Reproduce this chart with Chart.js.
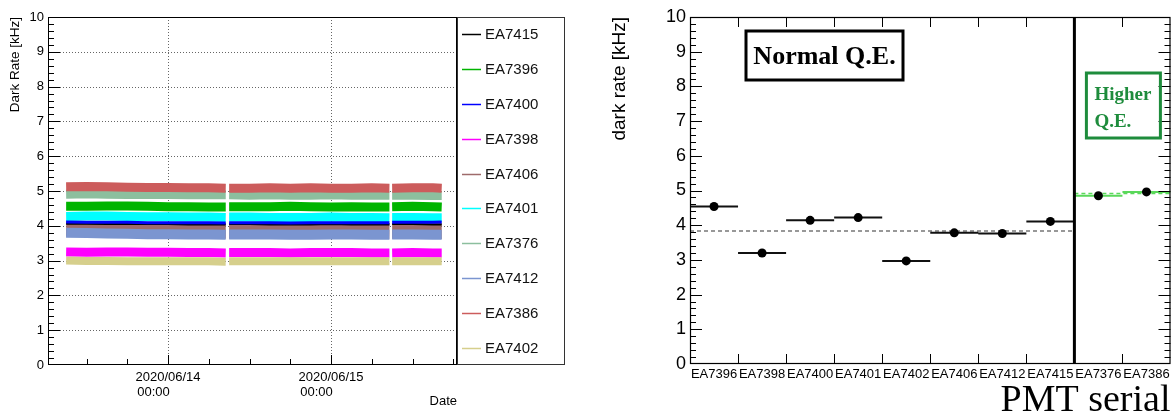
<!DOCTYPE html>
<html>
<head>
<meta charset="utf-8">
<script src="https://cdn.jsdelivr.net/npm/chart.js@4.4.1/dist/chart.umd.min.js"></script>
<style>
  html, body { margin: 0; padding: 0; background: #fff; }
  #wrap { position: relative; width: 1175px; height: 419px; overflow: hidden; }
  #graficoTempo { position: absolute; left: 0; top: 0; }
  #graficoPmt { position: absolute; left: 585px; top: 0; }
</style>
</head>
<body>
<div id="wrap">
  <canvas id="graficoTempo" width="585" height="419"></canvas>
  <canvas id="graficoPmt" width="590" height="419"></canvas>
</div>
<script>
// Dados: horas desde 2020/06/13 00:00 (null = falha na aquisição)
const horas = [9, 12, 15, 18, 21, 24, 27, 30, 32.5, 32.75, 33, 36, 39, 42, 45, 48, 51, 54, 56.6, 56.8, 57, 60, 63, 64.3];

const ea7415 = [4.06,4.06,4.05,4.05,4.05,4.05,4.04,4.04,4.04,null,4.05,4.05,4.04,4.04,4.04,4.05,4.04,4.04,4.04,null,4.05,4.05,4.04,4.04];
const ea7396 = [4.56,4.56,4.57,4.57,4.56,4.55,4.55,4.54,4.54,null,4.55,4.55,4.55,4.56,4.55,4.54,4.55,4.54,4.54,null,4.55,4.56,4.55,4.54];
const ea7400 = [4.11,4.10,4.10,4.10,4.09,4.09,4.09,4.09,4.08,null,4.09,4.09,4.09,4.08,4.09,4.09,4.09,4.09,4.09,null,4.10,4.10,4.10,4.11];
const ea7398 = [3.25,3.24,3.25,3.25,3.24,3.24,3.23,3.23,3.22,null,3.23,3.23,3.23,3.22,3.23,3.23,3.23,3.22,3.22,null,3.22,3.23,3.22,3.22];
const ea7406 = [3.92,3.91,3.90,3.89,3.88,3.87,3.87,3.86,3.86,null,3.86,3.86,3.85,3.86,3.85,3.85,3.86,3.86,3.85,null,3.86,3.86,3.85,3.85];
const ea7401 = [4.27,4.28,4.28,4.27,4.26,4.26,4.25,4.25,4.24,null,4.25,4.25,4.24,4.24,4.24,4.25,4.24,4.24,4.23,null,4.24,4.24,4.23,4.23];
const ea7376 = [4.91,4.92,4.91,4.90,4.90,4.90,4.89,4.89,4.89,null,4.89,4.88,4.89,4.88,4.88,4.89,4.88,4.88,4.88,null,4.88,4.88,4.87,4.87];
const ea7412 = [3.80,3.79,3.78,3.77,3.76,3.76,3.75,3.75,3.74,null,3.75,3.75,3.75,3.74,3.74,3.75,3.75,3.74,3.74,null,3.75,3.75,3.74,3.74];
const ea7386 = [5.12,5.13,5.12,5.11,5.10,5.10,5.09,5.09,5.08,null,5.08,5.08,5.09,5.08,5.09,5.08,5.08,5.09,5.08,null,5.08,5.09,5.09,5.08];
const ea7402 = [3.00,2.99,2.99,2.98,2.98,2.98,2.98,2.98,2.97,null,2.98,2.98,2.98,2.98,2.98,2.98,2.98,2.98,2.98,null,2.98,2.98,2.98,2.98];

const nomesSerie = ['EA7415', 'EA7396', 'EA7400', 'EA7398', 'EA7406', 'EA7401', 'EA7376', 'EA7412', 'EA7386', 'EA7402'];
const valoresSerie = [ea7415, ea7396, ea7400, ea7398, ea7406, ea7401, ea7376, ea7412, ea7386, ea7402];

const horasMarcadas = [24, 48];
const rotulosData = [['2020/06/14', '00:00        '], ['2020/06/15', '00:00        ']];

// Dados do gráfico por PMT
const pmtSerial = ['EA7396', 'EA7398', 'EA7400', 'EA7401', 'EA7402', 'EA7406', 'EA7412', 'EA7415', 'EA7376', 'EA7386'];
const pmtTaxa = [4.54, 3.20, 4.14, 4.22, 2.97, 3.78, 3.76, 4.11, 4.85, 4.96];
const qtdNormal = 8;
const mediaNormal = 3.83;
const mediaAlta = 4.91;

// Estilos
const cores = ['#000000', '#00b400', '#0000ff', '#ff00ff', '#9e6b6b', '#00ffff', '#8cbf9e', '#7b95d0', '#cc5c5c', '#d6cf8c'];
const larguras = [2, 9, 3, 9, 16, 9, 9, 10, 9, 8];
const ordemDesenho = [1, 8, 0, 7, 9, 6, 5, 4, 3, 2];
const fonteSans = 'Liberation Sans, Arial, Helvetica, sans-serif';
const fonteSerif = 'Liberation Serif, Times New Roman, serif';
const verdeClaro = '#5ad85a';

Chart.defaults.font.family = fonteSans;
Chart.defaults.color = '#000';

// ---------- gráfico da esquerda ----------
const molduraTempo = {
  id: 'molduraTempo',
  beforeDatasetsDraw(chart) {
    const { ctx, chartArea: a, scales: { x, y } } = chart;
    ctx.save();
    ctx.strokeStyle = '#666';
    ctx.lineWidth = 1;
    ctx.setLineDash([1, 2]);
    ctx.beginPath();
    for (let v = 1; v < 10; v++) {
      const py = Math.round(y.getPixelForValue(v)) + 0.5;
      ctx.moveTo(a.left, py); ctx.lineTo(a.right, py);
    }
    horasMarcadas.forEach(h => {
      const px = Math.round(x.getPixelForValue(h)) + 0.5;
      ctx.moveTo(px, a.top); ctx.lineTo(px, a.bottom);
    });
    ctx.stroke();
    ctx.restore();
  },
  afterDatasetsDraw(chart) {
    const { ctx, chartArea: a, scales: { x, y } } = chart;
    ctx.save();
    ctx.strokeStyle = '#000';
    ctx.lineWidth = 1;
    ctx.strokeRect(a.left + 0.5, a.top + 0.5, a.width - 1, a.height - 1);
    ctx.beginPath();
    for (let k = 1; k < 50; k++) {
      const py = Math.round(y.getPixelForValue(k * 0.2)) + 0.5;
      const len = k % 5 === 0 ? 12 : 6;
      ctx.moveTo(a.left, py); ctx.lineTo(a.left + len, py);
    }
    for (let h = 12; h <= 66; h += 6) {
      const px = Math.round(x.getPixelForValue(h)) + 0.5;
      const len = h % 24 === 0 ? 10 : 6;
      ctx.moveTo(px, a.bottom); ctx.lineTo(px, a.bottom - len);
    }
    ctx.stroke();

    // legenda em caixa à direita
    const lx = a.right, lw = 107;
    ctx.strokeStyle = '#333';
    ctx.strokeRect(lx + 0.5, a.top + 0.5, lw, a.height - 1);
    const passo = a.height / chart.data.datasets.length;
    ctx.font = '15px ' + fonteSans;
    ctx.textBaseline = 'middle';
    ctx.textAlign = 'left';
    chart.data.datasets.forEach((ds, i) => {
      const py = Math.round(a.top + passo * (i + 0.5)) + 0.5;
      ctx.strokeStyle = ds.borderColor;
      ctx.lineWidth = 1.5;
      ctx.beginPath();
      ctx.moveTo(lx + 5, py); ctx.lineTo(lx + 24, py);
      ctx.stroke();
      ctx.fillStyle = '#111';
      ctx.fillText(ds.label, lx + 28, py);
    });
    ctx.restore();
  }
};

new Chart(document.getElementById('graficoTempo'), {
  type: 'line',
  data: {
    datasets: nomesSerie.map((nome, i) => ({
      label: nome,
      data: horas.map((h, k) => ({ x: h, y: valoresSerie[i][k] })),
      borderColor: cores[i],
      borderWidth: larguras[i],
      borderCapStyle: 'butt',
      pointRadius: 0,
      spanGaps: false,
      tension: 0,
      order: ordemDesenho[i]
    }))
  },
  options: {
    responsive: false,
    animation: false,
    layout: { padding: { top: 17, right: 128, left: 0, bottom: 0 } },
    plugins: { legend: { display: false }, tooltip: { enabled: false } },
    scales: {
      x: {
        type: 'linear',
        min: 6.33,
        max: 66.55,
        grid: { display: false, drawTicks: false },
        border: { display: false },
        afterBuildTicks: s => { s.ticks = horasMarcadas.map(v => ({ value: v })); },
        afterFit: s => { s.height = 54; },
        ticks: {
          autoSkip: false,
          maxRotation: 0,
          padding: 5,
          font: { size: 13, lineHeight: 1.15 },
          callback: (v, i) => rotulosData[i]
        },
        title: { display: true, text: 'Date', align: 'end', font: { size: 13 }, padding: { top: 0, bottom: 10 } }
      },
      y: {
        min: 0,
        max: 10,
        grid: { display: false, drawTicks: false },
        border: { display: false },
        afterFit: s => { s.width = 48; },
        ticks: { stepSize: 1, padding: 4, font: { size: 13 } },
        title: { display: true, text: 'Dark Rate [kHz]', align: 'end', font: { size: 13.5 }, padding: { top: 7, bottom: 0 } }
      }
    }
  },
  plugins: [molduraTempo]
});

// ---------- gráfico da direita ----------
const binsNormal = [];
const binsAlta = [];
pmtTaxa.forEach((v, i) => {
  const alvo = i < qtdNormal ? binsNormal : binsAlta;
  alvo.push({ x: i, y: v }, { x: i + 1, y: v }, { x: i + 1, y: null });
});

const molduraPmt = {
  id: 'molduraPmt',
  afterDatasetsDraw(chart) {
    const { ctx, chartArea: a, scales: { x, y } } = chart;
    ctx.save();
    ctx.strokeStyle = '#000';
    ctx.lineWidth = 1.2;
    ctx.strokeRect(a.left + 0.5, a.top + 0.5, a.width - 1, a.height - 1);
    ctx.lineWidth = 1;
    ctx.beginPath();
    for (let k = 1; k < 50; k++) {
      const py = Math.round(y.getPixelForValue(k * 0.2)) + 0.5;
      const len = k % 5 === 0 ? 12 : 6;
      ctx.moveTo(a.left, py); ctx.lineTo(a.left + len, py);
      ctx.moveTo(a.right, py); ctx.lineTo(a.right - len, py);
    }
    for (let i = 1; i < pmtSerial.length; i++) {
      const px = Math.round(x.getPixelForValue(i)) + 0.5;
      ctx.moveTo(px, a.bottom); ctx.lineTo(px, a.bottom - 10);
      ctx.moveTo(px, a.top); ctx.lineTo(px, a.top + 10);
    }
    ctx.stroke();

    // separação entre Q.E. normal e alta
    const sx = x.getPixelForValue(qtdNormal);
    ctx.lineWidth = 3;
    ctx.beginPath();
    ctx.moveTo(sx, a.top); ctx.lineTo(sx, a.bottom);
    ctx.stroke();

    // caixa "Normal Q.E."
    ctx.lineWidth = 3;
    ctx.strokeRect(a.left + 56, a.top + 14, 157, 49);
    ctx.fillStyle = '#000';
    ctx.font = 'bold 26px ' + fonteSerif;
    ctx.textAlign = 'center';
    ctx.textBaseline = 'middle';
    ctx.fillText('Normal Q.E.', a.left + 134.5, a.top + 40);

    // caixa "Higher Q.E."
    ctx.strokeStyle = '#1e8c3c';
    ctx.strokeRect(sx + 12, a.top + 56, 74, 65);
    ctx.fillStyle = '#1e8c3c';
    ctx.font = 'bold 19px ' + fonteSerif;
    ctx.textAlign = 'left';
    ctx.textBaseline = 'alphabetic';
    ctx.fillText('Higher', sx + 20, a.top + 83);
    ctx.fillText('Q.E.', sx + 20, a.top + 110);
    ctx.restore();
  }
};

new Chart(document.getElementById('graficoPmt'), {
  type: 'line',
  data: {
    datasets: [
      {
        data: pmtTaxa.map((v, i) => ({ x: i + 0.5, y: v })),
        showLine: false,
        pointRadius: 4.5,
        pointBackgroundColor: '#000',
        pointBorderWidth: 0,
        order: 0
      },
      { data: binsNormal, borderColor: '#111', borderWidth: 2, pointRadius: 0, spanGaps: false, order: 1 },
      { data: binsAlta, borderColor: verdeClaro, borderWidth: 2, pointRadius: 0, spanGaps: false, order: 1 },
      {
        data: [{ x: 0, y: mediaNormal }, { x: qtdNormal, y: mediaNormal }],
        borderColor: '#777', borderWidth: 1.5, borderDash: [4, 3], pointRadius: 0, order: 2
      },
      {
        data: [{ x: qtdNormal, y: mediaAlta }, { x: pmtSerial.length, y: mediaAlta }],
        borderColor: verdeClaro, borderWidth: 1.5, borderDash: [4, 3], pointRadius: 0, order: 0
      }
    ]
  },
  options: {
    responsive: false,
    animation: false,
    layout: { padding: { top: 17, right: 3, left: 0, bottom: 0 } },
    plugins: { legend: { display: false }, tooltip: { enabled: false } },
    scales: {
      x: {
        type: 'linear',
        min: 0,
        max: pmtSerial.length,
        grid: { display: false, drawTicks: false },
        border: { display: false },
        afterBuildTicks: s => { s.ticks = pmtSerial.map((n, i) => ({ value: i + 0.5 })); },
        afterFit: s => { s.height = 55; },
        ticks: {
          autoSkip: false,
          maxRotation: 0,
          padding: 3,
          font: { size: 13 },
          callback: (v, i) => pmtSerial[i]
        },
        title: {
          display: true, text: 'PMT serial', align: 'end',
          font: { family: fonteSerif, size: 38, lineHeight: 1 },
          padding: { top: 0, bottom: -1 }
        }
      },
      y: {
        min: 0,
        max: 10,
        grid: { display: false, drawTicks: false },
        border: { display: false },
        afterFit: s => { s.width = 105; },
        ticks: { stepSize: 1, padding: 4, font: { size: 18 } },
        title: { display: true, text: 'dark rate [kHz]', align: 'end', font: { size: 19 }, padding: { top: 23, bottom: 0 } }
      }
    }
  },
  plugins: [molduraPmt]
});
</script>
</body>
</html>
